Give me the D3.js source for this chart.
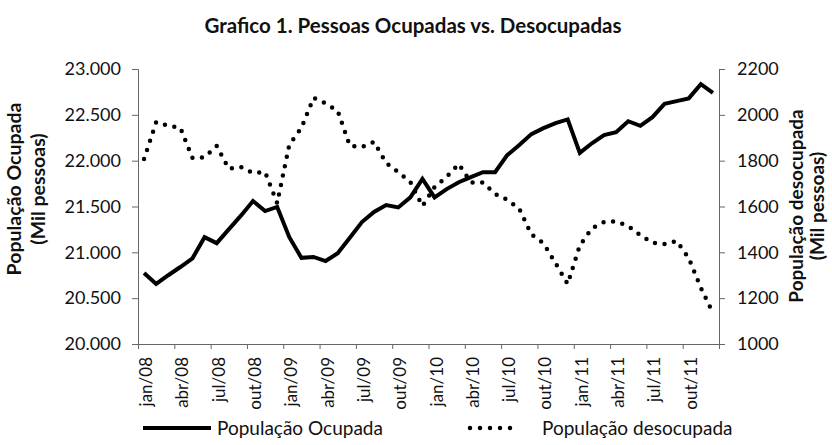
<!DOCTYPE html>
<html>
<head>
<meta charset="utf-8">
<script src="https://cdn.jsdelivr.net/npm/d3@7"></script>
<style>
  body { margin: 0; background: #fff; }
  text { font-family: Lato, "Noto Sans", sans-serif; fill: #111; }
</style>
</head>
<body>
<div id="chart"></div>
<script>
// month labels jan/08 .. dez/11
const monthNames = ['jan', 'fev', 'mar', 'abr', 'mai', 'jun', 'jul', 'ago', 'set', 'out', 'nov', 'dez'];
const years = ['08', '09', '10', '11'];
const months = [];
years.forEach(y => monthNames.forEach(m => months.push(m + '/' + y)));

// População Ocupada (mil pessoas), left axis
const ocupada = [
  20775, 20655, 20750, 20840, 20935, 21165, 21100, 21250, 21400, 21560, 21450, 21495,
  21165, 20940, 20950, 20905, 20990, 21160, 21330, 21440, 21515, 21490, 21600, 21800,
  21600, 21690, 21765, 21820, 21875, 21875, 22060, 22170, 22290, 22355, 22410, 22450,
  22085, 22190, 22280, 22310, 22430, 22380, 22475, 22620, 22650, 22680, 22835, 22740
];

// População desocupada (mil pessoas), right axis
const desocupada = [
  1807, 1968, 1952, 1943, 1812, 1815, 1864, 1765, 1772, 1746, 1750, 1615,
  1870, 1943, 2074, 2050, 2017, 1865, 1860, 1882, 1790, 1750, 1707, 1602,
  1685, 1730, 1785, 1705, 1705, 1655, 1630, 1590, 1478, 1440, 1352, 1262,
  1430, 1505, 1532, 1535, 1515, 1475, 1442, 1436, 1450, 1375, 1245, 1135
];

const leftTicks = [20000, 20500, 21000, 21500, 22000, 22500, 23000];
const rightTicks = [1000, 1200, 1400, 1600, 1800, 2000, 2200];
const xLabels = months.filter((m, i) => i % 3 === 0);

const width = 832, height = 445;
const plotLeft = 138, plotRight = 719, plotTop = 69, plotBottom = 344;

const svg = d3.select('#chart')
    .append('svg')
    .attr('width', width)
    .attr('height', height);

const ptBR = d3.formatLocale({decimal: ',', thousands: '.', grouping: [3], currency: ['R$', '']});

/* scales */
const xScale = d3.scaleBand()
    .domain(months)
    .range([plotLeft, plotRight]);
const xIndex = d3.scaleLinear()
    .domain([0, months.length])
    .range([plotLeft, plotRight]);
const yLeft = d3.scaleLinear()
    .domain([20000, 23000])
    .range([plotBottom, plotTop]);
const yRight = d3.scaleLinear()
    .domain([1000, 2200])
    .range([plotBottom, plotTop]);

const xc = d => xScale(d) + xScale.bandwidth() / 2;

/* title */
svg.append('text')
    .text('Grafico 1. Pessoas Ocupadas vs. Desocupadas')
    .attr('x', 413)
    .attr('y', 33)
    .attr('text-anchor', 'middle')
    .style('font-size', '20.5px')
    .style('font-weight', 'bold');

/* left axis */
const gLeft = svg.append('g')
    .attr('transform', `translate(${plotLeft},0)`)
    .call(d3.axisLeft(yLeft).tickValues(leftTicks).tickSize(6).tickPadding(11).tickFormat(ptBR.format(',')));

/* right axis */
const gRight = svg.append('g')
    .attr('transform', `translate(${plotRight},0)`)
    .call(d3.axisRight(yRight).tickValues(rightTicks).tickSize(6).tickPadding(12).tickFormat(d3.format('')));

/* x axis: ticks every 3 months on the category borders */
const gX = svg.append('g')
    .attr('transform', `translate(0,${plotBottom})`)
    .call(d3.axisBottom(xIndex).tickValues(d3.range(0, months.length + 1, 3)).tickSize(5).tickFormat(''));

/* x labels */
const gXLab = svg.append('g')
    .attr('transform', `translate(2,${plotBottom})`)
    .call(d3.axisBottom(xScale).tickValues(xLabels).tickSize(0));
gXLab.select('.domain').remove();
gXLab.selectAll('text')
    .attr('transform', 'rotate(-90)')
    .attr('x', -13)
    .attr('y', 0)
    .attr('dy', '0.35em')
    .style('text-anchor', 'end');

[gLeft, gRight, gX, gXLab].forEach(g => {
    g.selectAll('.domain, line').attr('stroke', '#666');
    g.selectAll('text').style('font-size', '17px').style('font-family', 'Lato, sans-serif').attr('fill', '#111');
});
gLeft.selectAll('text').style('font-size', '18px');
gRight.selectAll('text').style('font-size', '18px');

/* lines */
const lineOcupada = d3.line()
    .x((d, i) => xc(months[i]))
    .y(d => yLeft(d));

const lineDesocupada = d3.line()
    .x((d, i) => xc(months[i]))
    .y(d => yRight(d));

svg.append('path')
    .datum(desocupada)
    .attr('fill', 'none')
    .attr('stroke', '#000')
    .attr('stroke-width', 4.5)
    .attr('stroke-linecap', 'round')
    .attr('stroke-dasharray', '0 9.6')
    .attr('d', lineDesocupada);

svg.append('path')
    .datum(ocupada)
    .attr('fill', 'none')
    .attr('stroke', '#000')
    .attr('stroke-width', 4)
    .attr('stroke-linejoin', 'miter')
    .attr('d', lineOcupada);

/* y labels */
const yLab = (x, y, gap, size, lines) => {
    const t = svg.append('text')
        .attr('transform', `translate(${x},${y}) rotate(-90)`)
        .attr('text-anchor', 'middle')
        .style('font-size', size + 'px')
        .style('font-weight', 'bold');
    lines.forEach((l, i) => t.append('tspan').attr('x', 0).attr('y', i * gap).text(l));
};
yLab(21, 189, 24, 19.5, ['População Ocupada', '(Mil pessoas)']);
yLab(803, 206, 21, 19, ['População desocupada', '(Mil pessoas)']);

/* legend */
svg.append('line')
    .attr('x1', 143).attr('x2', 211)
    .attr('y1', 428).attr('y2', 428)
    .attr('stroke', '#000')
    .attr('stroke-width', 4);
svg.append('text')
    .text('População Ocupada')
    .attr('x', 217)
    .attr('y', 435)
    .style('font-size', '19px');

svg.append('line')
    .attr('x1', 470).attr('x2', 520)
    .attr('y1', 428).attr('y2', 428)
    .attr('stroke', '#000')
    .attr('stroke-width', 4.5)
    .attr('stroke-linecap', 'round')
    .attr('stroke-dasharray', '0 10');
svg.append('text')
    .text('População desocupada')
    .attr('x', 542)
    .attr('y', 435)
    .style('font-size', '19px');
</script>
</body>
</html>
